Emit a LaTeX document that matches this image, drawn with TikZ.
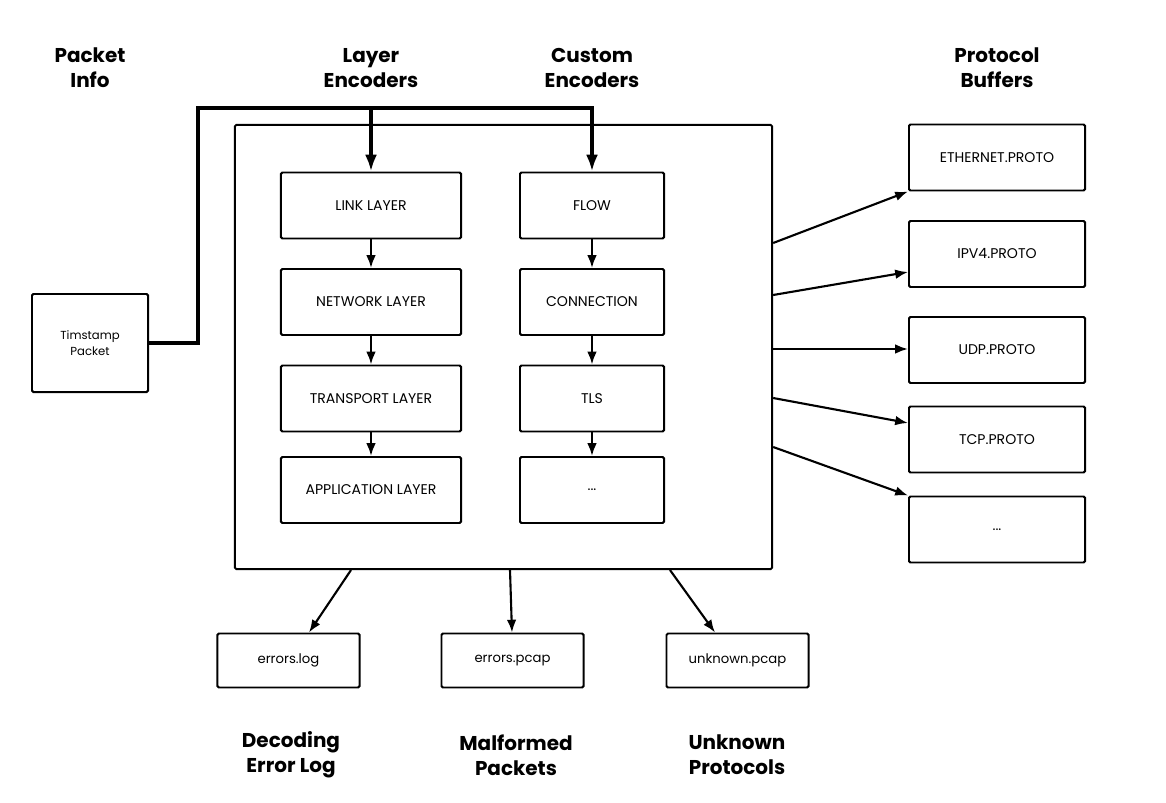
\documentclass[tikz,border=0pt]{standalone}
\usepackage{fontspec}
\setmainfont{Poppins}
\usetikzlibrary{arrows.meta,positioning}

\tikzset{
  blk/.style={draw, line width=1.4pt, rounded corners=1pt, font=\fontsize{10}{12}\selectfont},
  head/.style={align=center, font=\bfseries\fontsize{14.2}{17.7}\selectfont},
  flow/.style={line width=1.5pt, -{Latex[length=0.32cm, width=0.24cm]}},
  feed/.style={line width=3.2pt, -{Latex[length=0.42cm, width=0.3cm]}}
}

\begin{document}
\begin{tikzpicture}[x=0.025cm, y=-0.025cm]
        \useasboundingbox (0,0) rectangle (1166,803);

        % headings
        \node[head] (hinfo) at (90,68) {Packet\\Info};
        \node[head] (hlayer) at (371,68) {Layer\\Encoders};
        \node[head] (hcustom) at (592,68) {Custom\\Encoders};
        \node[head] (hproto) at (997,68) {Protocol\\Buffers};
        \node[head] (herr) at (291,755) {Decoding\\Error Log};
        \node[head] (hmal) at (516,755) {Malformed\\Packets};
        \node[head] (hunk) at (737,755) {Unknown\\Protocols};

        % core
        \node[blk, minimum width=13.43cm, minimum height=11.1cm] (core) at (503.5,347) {};

        \node[blk, minimum width=4.5cm, minimum height=1.65cm] (link) at (371,205.5) {LINK LAYER};
        \node[blk, minimum width=4.5cm, minimum height=1.65cm] (network) at (371,302) {NETWORK LAYER};
        \node[blk, minimum width=4.5cm, minimum height=1.65cm] (transport) at (371,398.5) {TRANSPORT LAYER};
        \node[blk, minimum width=4.5cm, minimum height=1.65cm] (application) at (371,490) {APPLICATION LAYER};

        \node[blk, minimum width=3.6cm, minimum height=1.65cm] (flowbox) at (592,205.5) {FLOW};
        \node[blk, minimum width=3.6cm, minimum height=1.65cm] (connection) at (592,302) {CONNECTION};
        \node[blk, minimum width=3.6cm, minimum height=1.65cm] (tls) at (592,398.5) {TLS};
        \node[blk, minimum width=3.6cm, minimum height=1.65cm] (more) at (592,490) {...};

        \draw[flow] (link) -- (network);
        \draw[flow] (network) -- (transport);
        \draw[flow] (transport) -- (application);
        \draw[flow] (flowbox) -- (connection);
        \draw[flow] (connection) -- (tls);
        \draw[flow] (tls) -- (more);

        % packet input
        \node[blk, minimum width=2.9cm, minimum height=2.45cm, align=center,
              font=\fontsize{8.3}{11.3}\selectfont] (stamp) at (90,343) {Timstamp\\Packet};
        \coordinate (hub) at (198,108);
        \draw[feed, rounded corners=0pt] (stamp.east) -| (hub) -| (flowbox.north);
        \draw[feed] (link.north |- hub) -- (link.north);

        % protocol buffers
        \node[blk, minimum width=4.4cm, minimum height=1.65cm] (ether) at (997,157.5) {ETHERNET.PROTO};
        \node[blk, minimum width=4.4cm, minimum height=1.65cm] (ipv4) at (997,254) {IPV4.PROTO};
        \node[blk, minimum width=4.4cm, minimum height=1.65cm] (udp) at (997,350) {UDP.PROTO};
        \node[blk, minimum width=4.4cm, minimum height=1.65cm] (tcp) at (997,439.5) {TCP.PROTO};
        \node[blk, minimum width=4.4cm, minimum height=1.65cm] (protomore) at (997,529.5) {...};

        \draw[flow] (core.east |- 0,243) -- (ether.south west);
        \draw[flow] (core.east |- 0,295) -- (ipv4.west |- 0,272);
        \draw[flow] (core.east |- 0,349) -- (udp.west |- 0,349);
        \draw[flow] (core.east |- 0,398) -- (tcp.west |- 0,423);
        \draw[flow] (core.east |- 0,447) -- (protomore.north west);

        % outputs
        \node[blk, minimum width=3.55cm, minimum height=1.35cm, font=\fontsize{9.4}{11}\selectfont] (errlog) at (288.5,660.5) {errors.log};
        \node[blk, minimum width=3.55cm, minimum height=1.35cm, font=\fontsize{9.4}{11}\selectfont] (errpcap) at (512.5,660.5) {errors.pcap};
        \node[blk, minimum width=3.55cm, minimum height=1.35cm, font=\fontsize{9.4}{11}\selectfont] (unkpcap) at (737.5,660.5) {unknown.pcap};

        \draw[flow] (core.south -| 351,0) -- (errlog.north -| 309,0);
        \draw[flow] (core.south -| 510,0) -- (errpcap.north -| 512,0);
        \draw[flow] (core.south -| 670,0) -- (unkpcap.north -| 715,0);
\end{tikzpicture}
\end{document}
